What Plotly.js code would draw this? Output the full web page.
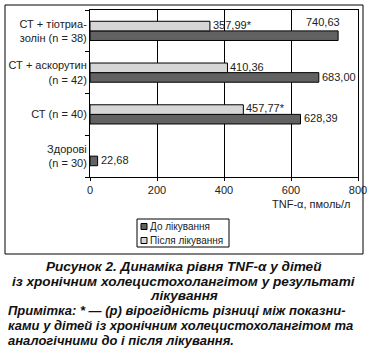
<!DOCTYPE html>
<html>
<head>
<meta charset="utf-8">
<script src="https://cdn.plot.ly/plotly-3.0.1.min.js"></script>
<style>
html,body{margin:0;padding:0;background:#fff;}
#chart{width:368px;height:353px;}
</style>
</head>
<body>
<div id="chart"></div>
<script>
// ---- data ----
const categories = ["Здорові<br>(n = 30)", "СТ (n = 40)", "СТ + аскорутин<br>(n = 42)", "СТ + тіотриа-<br>золін (n = 38)"];
const beforeValues = [22.68, 628.39, 683.00, 740.63];
const afterValues = [null, 457.77, 410.36, 357.99];
const afterSignificant = [false, true, false, true];
const seriesNames = ["До лікування", "Після лікування"];
const xTicks = [0, 200, 400, 600, 800];
const xAxisLabel = "TNF-α, пмоль/л";
const captionLines = [
  "Рисунок 2. Динаміка рівня TNF-α у дітей",
  "із хронічним холецистохолангітом у результаті",
  "лікування"
];
const noteLines = [
  "Примітка: * — (р) вірогідність різниці між показни-",
  "ками у дітей із хронічним холецистохолангітом та",
  "аналогічними до і після лікування."
];

// ---- geometry helpers (plot area in px) ----
const W = 368, H = 353;
const m = {l: 90, r: 10, t: 10, b: 176};
const pw = W - m.l - m.r, ph = H - m.t - m.b;
const px2x = px => (px - m.l) / pw;
const py2y = py => (H - m.b - py) / ph;

const fmt = v => v.toFixed(2).replace('.', ',');
const FONT = "Liberation Sans, Arial, sans-serif";
const TXT = "#222";
const seriesColors = ['#626262', '#d6d6d6'];

const traces = [
  {
    type: 'bar', orientation: 'h', name: seriesNames[0],
    y: categories, x: beforeValues,
    marker: {color: seriesColors[0], line: {color: '#000', width: 1}},
    hoverinfo: 'x', showlegend: false
  },
  {
    type: 'bar', orientation: 'h', name: seriesNames[1],
    y: categories, x: afterValues,
    marker: {color: seriesColors[1], line: {color: '#000', width: 1}},
    hoverinfo: 'x', showlegend: false
  }
];

const annotations = [];
const shapes = [];
// value labels
beforeValues.forEach((v, i) => {
  if (v == null) return;
  const crowded = v > 700;
  annotations.push({
    x: v, y: categories[i], xref: 'x', yref: 'y',
    text: fmt(v), showarrow: false,
    xanchor: crowded ? 'right' : 'left',
    xshift: crowded ? 4 : 1,
    yshift: crowded ? 9 : -4,
    font: {family: FONT, size: 11, color: TXT}
  });
});
afterValues.forEach((v, i) => {
  if (v == null) return;
  annotations.push({
    x: v, y: categories[i], xref: 'x', yref: 'y',
    text: fmt(v) + (afterSignificant[i] ? '*' : ''), showarrow: false,
    xanchor: 'left', xshift: 1, yshift: 6,
    font: {family: FONT, size: 11, color: TXT}
  });
});
// axis label
annotations.push({
  x: px2x(353), y: py2y(204), xref: 'paper', yref: 'paper',
  xanchor: 'right', yanchor: 'middle', showarrow: false,
  text: xAxisLabel, font: {family: FONT, size: 11, color: TXT}
});
// legend (compact, drawn as paper shapes + text)
const legTop = 219, legBottom = 247, legLeft = 137, legRight = 229;
shapes.push({
  type: 'rect', xref: 'paper', yref: 'paper',
  x0: px2x(legLeft), x1: px2x(legRight), y0: py2y(legBottom), y1: py2y(legTop),
  line: {color: '#000', width: 1}, fillcolor: '#fff', layer: 'above'
});
seriesNames.forEach((name, i) => {
  const cy = 226.5 + i * 14;
  shapes.push({
    type: 'rect', xref: 'paper', yref: 'paper',
    x0: px2x(141), x1: px2x(147), y0: py2y(cy + 3), y1: py2y(cy - 3),
    line: {color: '#000', width: 1}, fillcolor: seriesColors[i], layer: 'above'
  });
  annotations.push({
    x: px2x(148), y: py2y(cy), xref: 'paper', yref: 'paper',
    xanchor: 'left', yanchor: 'middle', showarrow: false,
    text: name, font: {family: FONT, size: 10, color: TXT}
  });
});
// outer frame
shapes.push({
  type: 'rect', xref: 'paper', yref: 'paper',
  x0: px2x(5), x1: px2x(363), y0: py2y(254), y1: py2y(5),
  line: {color: '#000', width: 1}, layer: 'above'
});
// caption
const capY = [266, 281, 295];
captionLines.forEach((t, i) => annotations.push({
  x: px2x(184), y: py2y(capY[i]), xref: 'paper', yref: 'paper',
  xanchor: 'center', yanchor: 'middle', showarrow: false,
  text: '<b><i>' + t + '</i></b>',
  font: {family: FONT, size: 13.6, color: '#111'}
}));
const noteY = [310, 325, 340];
noteLines.forEach((t, i) => annotations.push({
  x: px2x(6), y: py2y(noteY[i]), xref: 'paper', yref: 'paper',
  xanchor: 'left', yanchor: 'middle', showarrow: false,
  text: '<b><i>' + t + '</i></b>',
  font: {family: FONT, size: 13, color: '#111'}
}));

const layout = {
  width: W, height: H,
  margin: m,
  paper_bgcolor: '#ffffff', plot_bgcolor: '#ffffff',
  barmode: 'group', bargap: 0.54, bargroupgap: 0,
  font: {family: FONT, size: 11, color: TXT},
  showlegend: false,
  xaxis: {
    range: [0, 800], tickmode: 'array', tickvals: xTicks,
    showgrid: true, gridcolor: '#000000', gridwidth: 1, griddash: 'solid',
    showline: true, linecolor: '#000', linewidth: 1, mirror: true,
    ticks: 'outside', ticklen: 3, tickcolor: '#000',
    zeroline: false, fixedrange: true,
    tickfont: {family: FONT, size: 11, color: TXT}
  },
  yaxis: {
    type: 'category', categoryorder: 'array', categoryarray: categories,
    range: [-0.5, categories.length - 0.5],
    showline: true, linecolor: '#000', linewidth: 1, mirror: true,
    ticks: 'outside', ticklen: 4, tickcolor: '#000', tickson: 'boundaries',
    showgrid: false, zeroline: false, fixedrange: true,
    tickfont: {family: FONT, size: 11, color: TXT}
  },
  shapes: shapes,
  annotations: annotations
};

Plotly.newPlot('chart', traces, layout, {displayModeBar: false, staticPlot: true});
</script>
</body>
</html>
